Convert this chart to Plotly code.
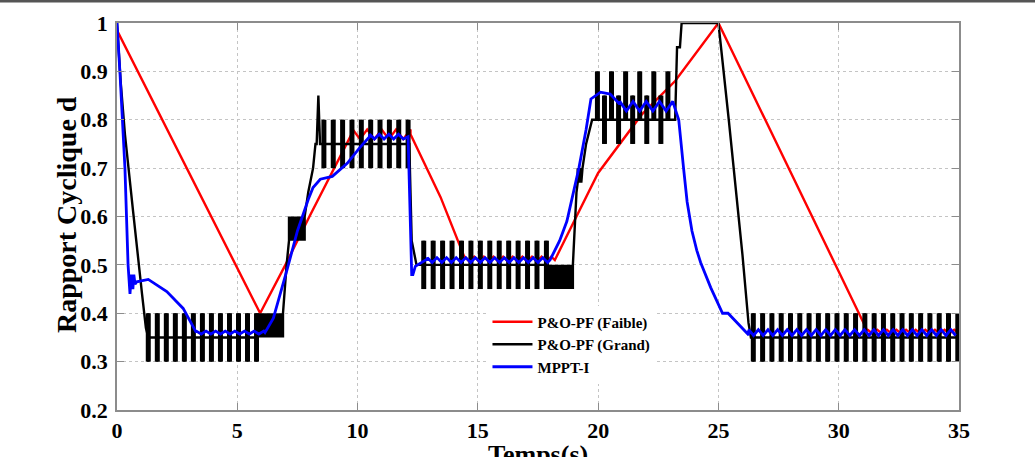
import numpy as np
import plotly.graph_objects as go

# ---------------- data ----------------
T_TICKS = [0, 5, 10, 15, 20, 25, 30, 35]
T_LABELS = ["0", "5", "10", "15", "20", "25", "30", "35"]
D_TICKS = [0.2, 0.3, 0.4, 0.5, 0.6, 0.7, 0.8, 0.9, 1.0]
D_LABELS = ["0.2", "0.3", "0.4", "0.5", "0.6", "0.7", "0.8", "0.9", "1"]

NAMES = ["P&O-PF (Faible)", "P&O-PF (Grand)", "MPPT-I"]

# Pieces in time order:
#  ("pts", times, values)                         -> plain polyline
#  ("ripple", t0, t1, centre, half_amp, period)  -> small P&O ripple
#  ("bars", t0, t1, n, [(low, mid, high), ...])  -> large P&O oscillation bars
#  ("dense", t0, t1, low, high)                  -> very fast oscillation block
FAIBLE = [
    ("pts", [0.0, 5.95, 7.0, 8.0, 9.8], [0.985, 0.40, 0.50, 0.60, 0.775]),
    ("ripple", 9.8, 12.2, 0.77, 0.01, 0.6),
    ("pts", [12.2, 13.45, 14.45], [0.77, 0.64, 0.515]),
    ("ripple", 14.45, 18.2, 0.512, 0.005, 0.4),
    ("pts", [18.2, 19.0, 20.0, 21.8, 23.2, 25.0, 31.2],
            [0.51, 0.59, 0.69, 0.81, 0.88, 1.0, 0.363]),
    ("ripple", 31.2, 35.0, 0.362, 0.004, 0.4),
]

GRAND = [
    ("pts", [0.0, 0.15, 0.33, 0.67, 1.04, 1.2], [1.0, 0.88, 0.77, 0.61, 0.44, 0.37]),
    ("bars", 1.3, 5.8, 13, [(0.30, 0.35, 0.40)]),
    ("dense", 5.85, 6.9, 0.35, 0.40),
    ("pts", [6.9, 7.05, 7.15], [0.40, 0.50, 0.55]),
    ("dense", 7.15, 7.8, 0.55, 0.60),
    ("pts", [7.8, 7.95, 8.15, 8.25, 8.3, 8.37, 8.44, 8.6],
            [0.60, 0.65, 0.70, 0.75, 0.75, 0.85, 0.75, 0.75]),
    ("bars", 8.6, 12.1, 10, [(0.70, 0.75, 0.80)]),
    ("pts", [12.15, 12.25, 12.45, 12.75], [0.75, 0.55, 0.50, 0.50]),
    ("bars", 12.75, 17.85, 14, [(0.45, 0.50, 0.55)]),
    ("dense", 17.9, 18.95, 0.45, 0.50),
    ("pts", [18.95, 19.1, 19.15], [0.50, 0.65, 0.67]),
    ("dense", 19.15, 19.35, 0.67, 0.70),
    ("pts", [19.35, 19.5, 19.75, 19.97], [0.70, 0.75, 0.80, 0.80]),
    ("bars", 19.97, 22.9, 11, [(0.80, 0.80, 0.90), (0.75, 0.80, 0.85)]),
    ("pts", [23.2, 23.28, 23.4, 23.47, 25.0, 25.43, 26.0, 26.25, 26.35],
            [0.80, 0.95, 0.95, 1.0, 1.0, 0.80, 0.52, 0.38, 0.35]),
    ("bars", 26.45, 34.95, 23, [(0.30, 0.35, 0.40)]),
]

MPPT = [
    ("pts", [0.0, 0.12, 0.33, 0.46, 0.54, 0.6, 0.66, 0.7, 0.75, 0.82, 1.3, 2.07, 2.75, 3.3],
            [1.0, 0.9, 0.7, 0.5, 0.44, 0.48, 0.45, 0.48, 0.46, 0.465, 0.47, 0.445, 0.41, 0.36]),
    ("ripple", 3.3, 6.15, 0.36, 0.003, 0.4),
    ("pts", [6.15, 6.5, 7.07, 7.5, 7.95, 8.15, 8.45, 8.95, 9.57, 10.1, 10.5],
            [0.36, 0.39, 0.49, 0.57, 0.635, 0.66, 0.677, 0.683, 0.71, 0.743, 0.765]),
    ("ripple", 10.5, 12.05, 0.765, 0.005, 0.4),
    ("pts", [12.1, 12.25, 12.3, 12.4, 12.9], [0.765, 0.48, 0.48, 0.497, 0.512]),
    ("ripple", 12.9, 18.0, 0.51, 0.005, 0.4),
    ("pts", [18.0, 18.4, 18.7, 19.2, 19.5, 19.7, 20.1, 20.5, 20.9],
            [0.51, 0.55, 0.59, 0.70, 0.78, 0.843, 0.857, 0.853, 0.832]),
    ("ripple", 20.9, 23.3, 0.828, 0.01, 0.55),
    ("pts", [23.35, 23.45, 23.55, 23.7, 23.9, 24.1, 24.26, 24.68, 25.17, 25.4, 26.26],
            [0.80, 0.75, 0.70, 0.63, 0.57, 0.53, 0.505, 0.453, 0.40, 0.40, 0.355]),
    ("ripple", 26.26, 35.0, 0.36, 0.006, 0.4),
]


# ---------------- expand pieces into polylines ----------------
def expand(pieces, dense_step=0.05):
    xs, ys = [], []          # main polyline
    bx, by = [], []          # vertical extents of the oscillation bars
    for p in pieces:
        kind = p[0]
        if kind == "pts":
            xs += list(p[1]); ys += list(p[2])
        elif kind == "ripple":
            _, t0, t1, c, a, per = p
            ts = np.arange(t0, t1 + 1e-9, per / 2.0)
            for i, t in enumerate(ts):
                xs.append(float(t)); ys.append(c + (a if i % 2 == 0 else -a))
        elif kind == "dense":
            _, t0, t1, lo, hi = p
            ts = np.arange(t0, t1 + 1e-9, dense_step)
            for i, t in enumerate(ts):
                xs.append(float(t)); ys.append(hi if i % 2 == 0 else lo)
        elif kind == "bars":
            _, t0, t1, n, levels = p
            centres = np.linspace(t0, t1, n)
            for i, c in enumerate(centres):
                lo, mid, hi = levels[i % len(levels)]
                c = float(c)
                xs += [c, c, c, c]
                ys += [mid, hi, lo, mid]
                bx += [c, c, None]
                by += [lo, hi, None]
    return xs, ys, bx, by


COLORS = ["#ff0000", "#000000", "#0000ff"]
WIDTHS = [2.4, 2.4, 2.8]

fig = go.Figure()
for name, pieces, col, w in zip(NAMES, [FAIBLE, GRAND, MPPT], COLORS, WIDTHS):
    x, y, bx, by = expand(pieces)
    fig.add_trace(go.Scatter(x=x, y=y, mode="lines", name=name, legendgroup=name,
                             line=dict(color=col, width=w, simplify=False)))
    if bx:
        fig.add_trace(go.Scatter(x=bx, y=by, mode="lines", name=name,
                                 legendgroup=name, showlegend=False,
                                 line=dict(color=col, width=5, simplify=False)))

FONT = "Liberation Serif"
axis_common = dict(
    showline=True, linecolor="#8c8c8c", linewidth=1.5, mirror="ticks",
    ticks="inside", ticklen=7, tickcolor="#8c8c8c", tickwidth=1.2,
    showgrid=True, gridcolor="#c4c4c4", gridwidth=1, griddash="dot",
    zeroline=False,
    tickfont=dict(family=FONT, size=22, color="#000000", weight="bold"),
)

fig.update_xaxes(range=[0, 35], tickvals=T_TICKS, ticktext=T_LABELS, **axis_common)
fig.update_yaxes(range=[0.2, 1.0], tickvals=D_TICKS, ticktext=D_LABELS,
                 ticklabelstandoff=3, **axis_common)

fig.update_layout(
    width=1035, height=457,
    margin=dict(l=117, r=76, t=23, b=47),
    paper_bgcolor="#ffffff", plot_bgcolor="#ffffff",
    showlegend=True,
    legend=dict(x=0.44, y=0.27, xanchor="left", yanchor="top",
                bgcolor="#ffffff", borderwidth=0,
                font=dict(family=FONT, size=15, color="#000000", weight="bold"),
                tracegroupgap=0, itemwidth=40),
    annotations=[
        dict(text="Rapport Cyclique d", textangle=-90, xref="paper", yref="paper",
             x=-0.06, y=0.505, xanchor="center", yanchor="middle", showarrow=False,
             font=dict(family=FONT, size=28, color="#000000", weight="bold")),
        dict(text="Temps(s)", xref="paper", yref="paper",
             x=0.5, y=-0.072, xanchor="center", yanchor="top", showarrow=False,
             font=dict(family=FONT, size=26, color="#000000", weight="bold")),
    ],
    shapes=[
        dict(type="line", xref="paper", yref="paper",
             x0=-117 / 842, x1=(1035 - 117) / 842, y0=1 + 22 / 387, y1=1 + 22 / 387,
             line=dict(color="#555555", width=3)),
    ],
)

fig.write_html("out.html")
